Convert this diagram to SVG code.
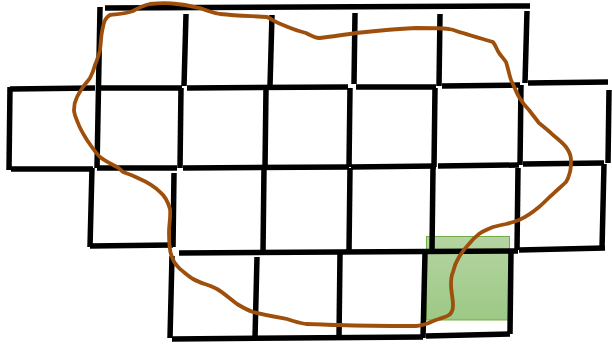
<svg xmlns="http://www.w3.org/2000/svg" width="612" height="344" viewBox="0 0 612 344">
<defs>
<linearGradient id="g" x1="0" y1="0" x2="0" y2="1">
<stop offset="0" stop-color="#b5d4a2"/>
<stop offset="1" stop-color="#9dc985"/>
</linearGradient>
<style>
.g line{stroke:#000;stroke-width:5.5;stroke-linecap:butt}
.c{fill:none;stroke:#9e4f0c;stroke-width:3.8;stroke-linejoin:round;stroke-linecap:round}
</style>
</defs>
<rect width="612" height="344" fill="#fff"/>
<g id="highlight">
<rect x="426.5" y="236.5" width="83" height="83.5" fill="url(#g)" stroke="#70ad47" stroke-width="1"/>
</g>
<g id="grid" class="g">
<!-- row 1 -->
<line x1="105" y1="8" x2="530" y2="6"/>
<line x1="100" y1="7" x2="97" y2="168"/>
<line x1="186" y1="14" x2="184" y2="86"/>
<line x1="272" y1="15" x2="270" y2="86"/>
<line x1="355" y1="13" x2="354" y2="84"/>
<line x1="440" y1="14" x2="439" y2="86"/>
<line x1="527" y1="11" x2="525" y2="83"/>
<!-- row 2 top -->
<line x1="10" y1="89" x2="95" y2="88"/>
<line x1="100" y1="88" x2="182" y2="88"/>
<line x1="187" y1="88" x2="348" y2="87"/>
<line x1="356" y1="87" x2="436" y2="87"/>
<line x1="442" y1="86" x2="520" y2="85"/>
<line x1="528" y1="83" x2="608" y2="82"/>
<!-- row 2 verticals -->
<line x1="10" y1="87" x2="9" y2="170"/>
<line x1="181" y1="88" x2="180" y2="168"/>
<line x1="266" y1="88" x2="265" y2="168"/>
<line x1="350" y1="88" x2="349" y2="167"/>
<line x1="435" y1="88" x2="434" y2="167"/>
<line x1="521" y1="85" x2="520" y2="165"/>
<line x1="609" y1="90" x2="608" y2="163"/>
<!-- row 3 top -->
<line x1="11" y1="169" x2="93" y2="169"/>
<line x1="97" y1="168" x2="177" y2="168"/>
<line x1="183" y1="168" x2="349" y2="167"/>
<line x1="351" y1="167" x2="436" y2="166"/>
<line x1="438" y1="166" x2="519" y2="165"/>
<line x1="523" y1="164" x2="604" y2="163"/>
<!-- row 3 verticals -->
<line x1="92" y1="168" x2="90" y2="247"/>
<line x1="174" y1="173" x2="173" y2="247"/>
<line x1="264" y1="168" x2="263" y2="252"/>
<line x1="350" y1="168" x2="349" y2="251"/>
<line x1="433" y1="168" x2="432" y2="251"/>
<line x1="518" y1="168" x2="517" y2="250"/>
<line x1="604" y1="164" x2="602" y2="249"/>
<!-- row 4 top -->
<line x1="90" y1="246" x2="173" y2="245"/>
<line x1="179" y1="253" x2="518" y2="251"/>
<line x1="519" y1="250" x2="605" y2="248"/>
<!-- row 4 verticals -->
<line x1="172" y1="256" x2="170" y2="338"/>
<line x1="257" y1="257" x2="255" y2="338"/>
<line x1="340" y1="254" x2="339" y2="338"/>
<line x1="425" y1="253" x2="423" y2="338"/>
<line x1="511" y1="251" x2="510" y2="334"/>
<!-- row 4 bottom -->
<line x1="172" y1="339" x2="423" y2="337"/>
<line x1="426" y1="336" x2="510" y2="334"/>
</g>
<g id="connectors">
<path class="c" d="M110,15 C118,14 125,14 133,11 C140,7 145,5 150,4 C160,3 170,3 177,4 C188,5 194,7 200,8 C210,12 214,13 220,14 C240,16 255,16 267,17 C273,20 277,23 283,25 C290,28 298,31 306,33 C312,36 315,38 319,38 C330,37 343,35 356,33 C375,31 396,29 416,28 C430,28 440,28 449,29 C455,30 458,32 463,33 C472,36 483,39 493,42 C496,46 497,50 499,53 C502,57 504,59 506,62 C508,68 509,74 511,80 C514,86 516,92 519,97 C522,102 525,106 529,110 C532,114 536,119 539,123 C544,127 549,131 553,135 C558,139 563,143 566,147 C569,151 571,155 571,160 C571,164 571,168 570,172 C569,176 568,179 566,182 C562,186 557,190 553,194 C548,198 544,203 539,207 C533,212 526,217 519,220 C514,222 510,223 506,224 C501,225 497,226 493,227 C488,229 483,231 479,234 C475,237 472,240 469,244 C465,248 462,252 459,257 C456,262 454,267 453,272 C451,276 451,280 451,285 C451,292 453,298 453,305 C453,310 452,313 449,315 C446,317 442,318 439,319 C434,320 430,323 426,324 C422,325 419,326 416,326 C390,326 365,326 339,325 C328,325 317,324 306,324 C300,323 293,321 287,319 C276,317 264,315 253,312 C247,310 242,307 237,304 C230,299 224,293 217,289 C209,285 200,283 193,279 C188,276 184,272 180,269 C176,265 173,261 172,257 C170,252 170,250 170,249 C169,243 169,238 169,232 C169,224 171,216 170,209 C168,202 165,196 160,192 C154,186 147,182 140,179 C134,176 129,174 123,172 C121,170 119,168 117,167 C111,164 105,161 100,157 C95,152 91,146 87,140 C84,135 80,129 78,123 C76,118 74,114 74,110 C74,105 75,101 77,97 C79,93 81,90 83,87 C85,84 88,81 90,78 C92,74 94,69 95,65 C97,60 99,55 100,50 C101,42 101,34 103,27 C104,21 106,17 110,15 Z"/>
</g>
</svg>
